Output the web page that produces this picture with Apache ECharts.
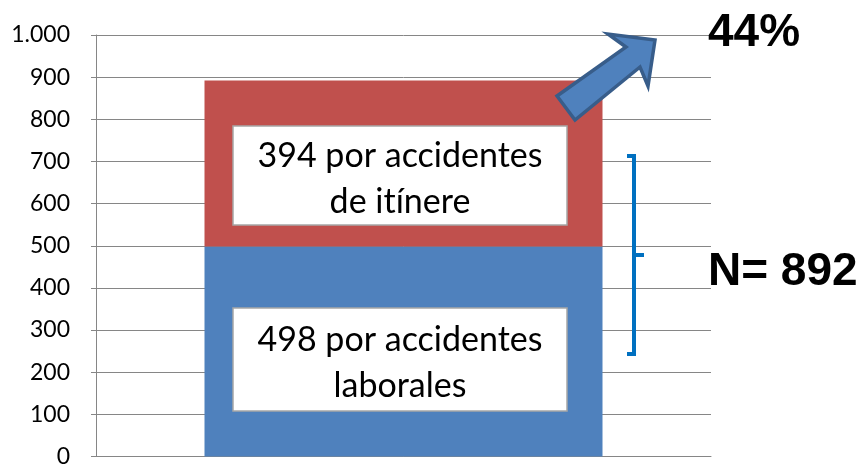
<!DOCTYPE html>
<html>
<head>
<meta charset="utf-8">
<script src="https://cdn.jsdelivr.net/npm/echarts@6/dist/echarts.min.js"></script>
<style>
  html, body { margin: 0; padding: 0; background: #fff; }
  #chart { width: 866px; height: 468px; }
</style>
</head>
<body>
<div id="chart"></div>
<script>
const categories = ['']
const laborales = [498]
const itinere = [394]
const yTickLabels = ['0', '100', '200', '300', '400', '500', '600', '700', '800', '900', '1.000']

// \u200c evita la ligadura "tí" de Lato
const boxTexts = ['394 por accidentes\nde it\u200cínere', '498 por accidentes\nlaborales']
const pctText = '44%'
const totalText = 'N= 892'

const chart = echarts.init(document.getElementById('chart'))

const boxStyle = { fill: '#fff', stroke: '#a6a6a6', lineWidth: 1.5 }
const boxFont = { fontFamily: 'Lato', fontSize: 34, fill: '#000', lineHeight: 46, align: 'center', verticalAlign: 'middle' }

const option = {
  animation: false,
  grid: { left: 96, right: 155, top: 35, bottom: 8 },
  xAxis: {
    type: 'category',
    data: categories,
    axisLine: { lineStyle: { color: '#868686' } },
    axisTick: { show: false },
    axisLabel: { show: false }
  },
  yAxis: {
    type: 'value',
    min: 0,
    max: 1000,
    interval: 100,
    axisLine: { show: true, lineStyle: { color: '#868686' } },
    axisTick: { show: true, length: 5, lineStyle: { color: '#868686' } },
    splitLine: { lineStyle: { color: '#868686' } },
    axisLabel: {
      margin: 26,
      fontFamily: 'Lato',
      fontSize: 23,
      color: '#000',
      formatter: (v) => yTickLabels[Math.round(v / 100)]
    }
  },
  series: [
    {
      name: 'laborales',
      type: 'bar',
      stack: 'total',
      barWidth: 398,
      itemStyle: { color: '#4f81bd' },
      data: laborales
    },
    {
      name: 'itinere',
      type: 'bar',
      stack: 'total',
      barWidth: 398,
      itemStyle: { color: '#c0504d' },
      data: itinere
    }
  ],
  graphic: [
    // cuadros de texto
    { type: 'rect', shape: { x: 233, y: 126, width: 334, height: 99 }, style: boxStyle, z: 10 },
    { type: 'text', x: 400, y: 179, style: Object.assign({ text: boxTexts[0] }, boxFont), z: 11 },
    { type: 'rect', shape: { x: 233, y: 308, width: 334, height: 103 }, style: boxStyle, z: 10 },
    { type: 'text', x: 400, y: 363, style: Object.assign({ text: boxTexts[1] }, boxFont), z: 11 },
    // flecha
    {
      type: 'polygon',
      shape: {
        points: [[557, 96], [626, 47], [608, 34], [655, 40], [648, 86], [640, 67], [575, 120]]
      },
      style: { fill: '#4f81bd', stroke: '#385d8a', lineWidth: 3.5, lineJoin: 'miter' },
      z: 12
    },
    {
      type: 'text', x: 708, y: 33,
      style: { text: pctText, fontFamily: 'Liberation Sans', fontWeight: 'bold', fontSize: 46, fill: '#000', verticalAlign: 'middle' },
      z: 12
    },
    // llave
    {
      type: 'polyline',
      shape: { points: [[627, 156], [634, 156], [634, 354], [627, 354]] },
      style: { stroke: '#0070c0', lineWidth: 4, fill: null },
      z: 12
    },
    {
      type: 'polyline',
      shape: { points: [[634, 255], [644, 255]] },
      style: { stroke: '#0070c0', lineWidth: 4, fill: null },
      z: 12
    },
    {
      type: 'text', x: 708, y: 272,
      style: { text: totalText, fontFamily: 'Liberation Sans', fontWeight: 'bold', fontSize: 46, fill: '#000', verticalAlign: 'middle' },
      z: 12
    }
  ]
}

chart.setOption(option)
</script>
</body>
</html>
